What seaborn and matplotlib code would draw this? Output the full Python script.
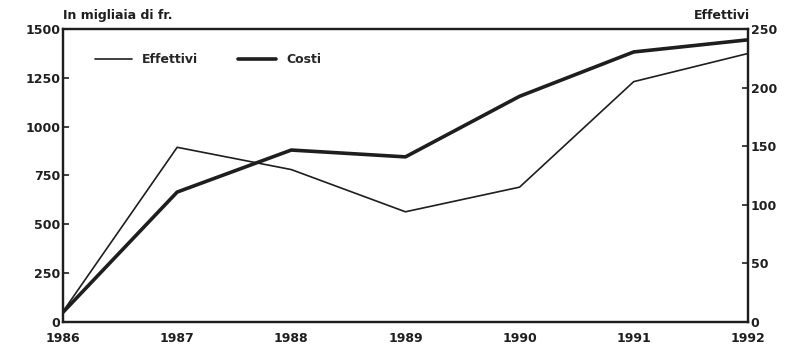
import matplotlib
matplotlib.use("Agg")
import matplotlib.pyplot as plt
import seaborn as sns
import pandas as pd

# dati
anni = [1986, 1987, 1988, 1989, 1990, 1991, 1992]
costi = [50, 665, 880, 845, 1155, 1382, 1444]      # in migliaia di fr. (asse sinistro)
effettivi = [9, 149, 130, 94, 115, 205, 229]        # asse destro

yticks_sx = [0, 250, 500, 750, 1000, 1250, 1500]
yticks_dx = [0, 50, 100, 150, 200, 250]

df = pd.DataFrame({"anno": anni, "Costi": costi, "Effettivi": effettivi})

sns.set_style("white")
plt.rcParams["font.family"] = ["DejaVu Sans"]
plt.rcParams["font.weight"] = "bold"

fig = plt.figure(figsize=(7.88, 3.44), dpi=100)
ax = fig.add_axes([0.080, 0.064, 0.869, 0.852])
ax2 = ax.twinx()

col = "#1e1e1e"
sns.lineplot(data=df, x="anno", y="Costi", ax=ax, color=col, linewidth=2.6, label="Costi", legend=False)
sns.lineplot(data=df, x="anno", y="Effettivi", ax=ax2, color=col, linewidth=1.2, label="Effettivi", legend=False)

ax.set_xlim(1986, 1992)
ax.set_ylim(0, 1500)
ax2.set_ylim(0, 250)
ax.set_xticks(anni)
ax.set_yticks(yticks_sx)
ax2.set_yticks(yticks_dx)
ax.set_xlabel("")
ax.set_ylabel("")
ax2.set_ylabel("")

for a in (ax, ax2):
    for s in a.spines.values():
        s.set_color(col)
        s.set_linewidth(1.6)
    a.tick_params(direction="in", length=4, width=1.2, colors=col, labelsize=9, pad=2)
ax.tick_params(axis="x", length=3, pad=7)

# legenda
h1, l1 = ax2.get_legend_handles_labels()
h2, l2 = ax.get_legend_handles_labels()
ax.legend(h1 + h2, l1 + l2, loc="upper left", bbox_to_anchor=(0.03, 0.955), ncol=2,
          frameon=False, fontsize=9, handlelength=3, columnspacing=3.2)

fig.text(0.080, 0.935, "In migliaia di fr.", fontsize=9, fontweight="bold", color=col, ha="left", va="bottom")
fig.text(0.952, 0.935, "Effettivi", fontsize=9, fontweight="bold", color=col, ha="right", va="bottom")

fig.savefig("out.png", dpi=100)
